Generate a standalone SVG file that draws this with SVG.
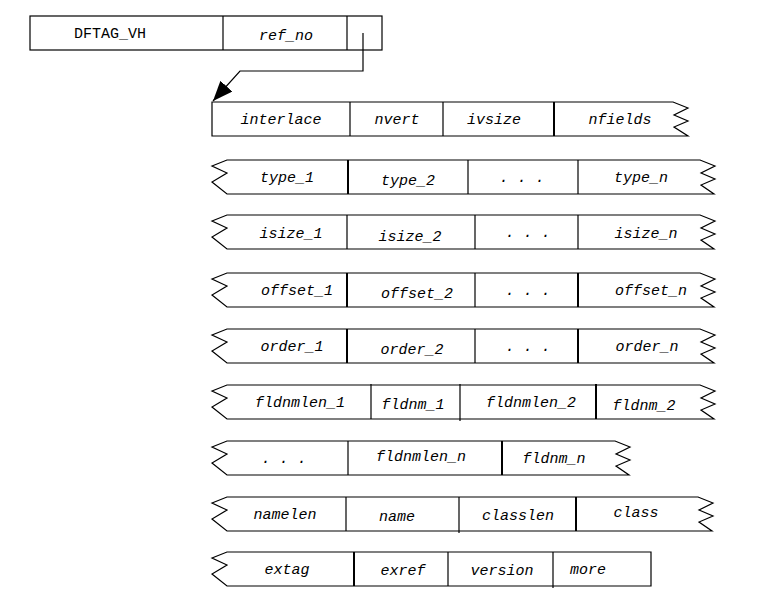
<svg xmlns="http://www.w3.org/2000/svg" width="761" height="610" viewBox="0 0 761 610">
<defs>
<style>
.box{fill:#fff;stroke:#000;stroke-width:1.2;stroke-linejoin:miter}
.div{stroke:#000;stroke-width:1.2}
.dv2{stroke:#000;stroke-width:2}
.t{font-family:"Liberation Mono","Courier New",monospace;font-size:15px;font-style:italic;text-anchor:middle;fill:#000}
.tu{font-family:"Liberation Mono","Courier New",monospace;font-size:15px;text-anchor:middle;fill:#000}
.con{fill:none;stroke:#000;stroke-width:1.2}
</style>
<marker id="ah" markerWidth="22" markerHeight="16" refX="20" refY="8" orient="auto" markerUnits="userSpaceOnUse">
<path d="M0,0 L20,8 L0,16 Z" fill="#000"/>
</marker>
</defs>
<rect width="761" height="610" fill="#fff"/>

<g id="dftag">
<rect class="box" x="30" y="16" width="352" height="34"/>
<line class="div" x1="223" y1="16" x2="223" y2="50"/>
<line class="div" x1="347" y1="16" x2="347" y2="50"/>
<text class="tu" x="110" y="38">DFTAG_VH</text>
<text class="t" x="286" y="40">ref_no</text>
</g>

<g id="connectors">
<polyline class="con" points="363,33 363,71 240,71 213,101" marker-end="url(#ah)"/>
</g>

<g id="row1">
<path class="box" d="M212,102 H673 L688,108 L674,115 L688,121 L674,127 L688,136 H212 Z"/>
<line class="div" x1="350" y1="102" x2="350" y2="136"/>
<line class="div" x1="443" y1="102" x2="443" y2="136"/>
<line class="dv2" x1="554" y1="102" x2="554" y2="136"/>
<text class="t" x="281" y="124">interlace</text>
<text class="t" x="397" y="124">nvert</text>
<text class="t" x="494" y="124">ivsize</text>
<text class="t" x="620" y="124">nfields</text>
</g>

<g id="row2">
<path class="box" d="M227,160 H700 L715,166 L701,173 L715,179 L701,185 L714,194 H227 L212,182 L227,173 L212,166 Z"/>
<line class="dv2" x1="348" y1="160" x2="348" y2="194"/>
<line class="div" x1="468" y1="160" x2="468" y2="194"/>
<line class="div" x1="578" y1="160" x2="578" y2="194"/>
<text class="t" x="287" y="182">type_1</text>
<text class="t" x="408" y="185">type_2</text>
<text class="t" x="522" y="182">. . .</text>
<text class="t" x="641" y="182">type_n</text>
</g>

<g id="row3">
<path class="box" d="M227,215 H700 L715,221 L701,228 L715,234 L701,240 L714,249 H227 L212,237 L227,228 L212,221 Z"/>
<line class="div" x1="347" y1="215" x2="347" y2="249"/>
<line class="div" x1="475" y1="215" x2="475" y2="249"/>
<line class="div" x1="578" y1="215" x2="578" y2="249"/>
<text class="t" x="291" y="238">isize_1</text>
<text class="t" x="410" y="241">isize_2</text>
<text class="t" x="528" y="237">. . .</text>
<text class="t" x="646" y="238">isize_n</text>
</g>

<g id="row4">
<path class="box" d="M227,273 H700 L715,279 L701,286 L715,292 L701,298 L714,307 H227 L212,295 L227,286 L212,279 Z"/>
<line class="dv2" x1="347" y1="273" x2="347" y2="307"/>
<line class="div" x1="475" y1="273" x2="475" y2="307"/>
<line class="dv2" x1="578" y1="273" x2="578" y2="307"/>
<text class="t" x="297" y="295">offset_1</text>
<text class="t" x="417" y="298">offset_2</text>
<text class="t" x="528" y="295">. . .</text>
<text class="t" x="651" y="295">offset_n</text>
</g>

<g id="row5">
<path class="box" d="M227,329 H700 L715,335 L701,342 L715,348 L701,354 L714,363 H227 L212,351 L227,342 L212,335 Z"/>
<line class="dv2" x1="347" y1="329" x2="347" y2="363"/>
<line class="div" x1="475" y1="329" x2="475" y2="363"/>
<line class="dv2" x1="578" y1="329" x2="578" y2="363"/>
<text class="t" x="292" y="351">order_1</text>
<text class="t" x="412" y="354">order_2</text>
<text class="t" x="528" y="351">. . .</text>
<text class="t" x="647" y="351">order_n</text>
</g>

<g id="row6">
<path class="box" d="M227,385 H700 L715,391 L701,398 L715,404 L701,410 L714,419 H227 L212,407 L227,398 L212,391 Z"/>
<line class="div" x1="371" y1="384" x2="371" y2="419"/>
<line class="div" x1="460" y1="384" x2="460" y2="421"/>
<line class="dv2" x1="596" y1="384" x2="596" y2="419"/>
<text class="t" x="300" y="407">fldnmlen_1</text>
<text class="t" x="413" y="409">fldnm_1</text>
<text class="t" x="531" y="407">fldnmlen_2</text>
<text class="t" x="644" y="410">fldnm_2</text>
</g>

<g id="row7">
<path class="box" d="M227,441 H615 L630,447 L616,454 L630,460 L616,466 L629,475 H227 L212,463 L227,454 L212,447 Z"/>
<line class="div" x1="348" y1="441" x2="348" y2="475"/>
<line class="dv2" x1="502" y1="441" x2="502" y2="475"/>
<text class="t" x="284" y="463">. . .</text>
<text class="t" x="421" y="461">fldnmlen_n</text>
<text class="t" x="554" y="463">fldnm_n</text>
</g>

<g id="row8">
<path class="box" d="M227,497 H698 L713,503 L699,510 L713,516 L699,522 L712,531 H227 L212,519 L227,510 L212,503 Z"/>
<line class="div" x1="346" y1="497" x2="346" y2="531"/>
<line class="div" x1="459" y1="497" x2="459" y2="533"/>
<line class="dv2" x1="576" y1="497" x2="576" y2="531"/>
<text class="t" x="285" y="519">namelen</text>
<text class="t" x="397" y="521">name</text>
<text class="t" x="518" y="520">classlen</text>
<text class="t" x="636" y="517">class</text>
</g>

<g id="row9">
<path class="box" d="M227,552 H651 V586 H227 L212,574 L227,565 L212,558 Z"/>
<line class="dv2" x1="354" y1="552" x2="354" y2="586"/>
<line class="div" x1="448" y1="552" x2="448" y2="586"/>
<line class="div" x1="553" y1="552" x2="553" y2="588"/>
<text class="t" x="287" y="574">extag</text>
<text class="t" x="403" y="575">exref</text>
<text class="t" x="502" y="575">version</text>
<text class="t" x="588" y="574">more</text>
</g>
</svg>
